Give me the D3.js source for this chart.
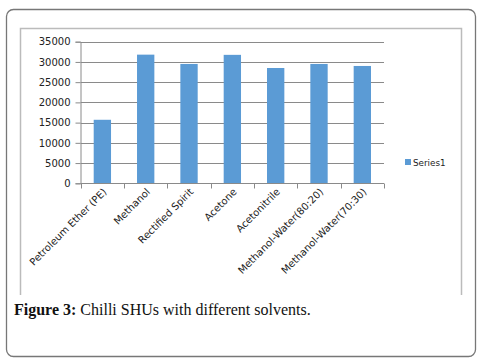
<!DOCTYPE html>
<html><head><meta charset="utf-8">
<script src="https://cdn.jsdelivr.net/npm/d3@7"></script>
<style>body{margin:0;background:#fff}svg{display:block}</style>
</head><body>
<script>
const categories = ["Petroleum Ether (PE)","Methanol","Rectified Spirit","Acetone","Acetonitrile","Methanol-Water(80:20)","Methanol-Water(70:30)"];
const values = [15700,31800,29500,31750,28500,29500,29000];
const yTicks = [0,5000,10000,15000,20000,25000,30000,35000];
const seriesName = "Series1";
const caption = ["Figure 3:", " Chilli SHUs with different solvents."];

const W=486,H=361;
const FONT="'DejaVu Sans', Verdana, sans-serif";
const svg=d3.select("body").append("svg").attr("width",W).attr("height",H);
svg.append("rect").attr("x",6.5).attr("y",9.5).attr("width",469).attr("height",347).attr("rx",7)
  .attr("fill","#fff").attr("stroke","#777").attr("stroke-width",1.3);
svg.append("path").attr("d","M20.5,295 V28.5 H461.5 V295").attr("fill","none").attr("stroke","#bbb").attr("stroke-width",1.5);

const x=d3.scaleBand().domain(categories).range([80.7,384]).paddingInner(0.6).paddingOuter(0.3);
const y=d3.scaleLinear().domain([0,35000]).range([183.3,41.7]);

svg.append("g").selectAll("line").data(yTicks.slice(1)).join("line")
  .attr("x1",80.7).attr("x2",384).attr("y1",d=>Math.round(y(d))+0.5).attr("y2",d=>Math.round(y(d))+0.5)
  .attr("stroke","#8a8a8a").attr("stroke-width",1);

svg.append("g").selectAll("rect").data(values).join("rect")
  .attr("x",(d,i)=>x(categories[i])).attr("width",x.bandwidth())
  .attr("y",d=>y(d)).attr("height",d=>y(0)-y(d)).attr("fill","#5B9BD5");

const ya=d3.axisLeft(y).tickValues(yTicks).tickSize(5).tickPadding(5).tickFormat(d3.format("d"));
const gy=svg.append("g").attr("transform","translate(80.5,0)").call(ya);
gy.select(".domain").attr("stroke","#8a8a8a");
gy.selectAll(".tick line").attr("stroke","#8a8a8a");
gy.selectAll("text").attr("font-family",FONT).attr("font-size","10px").attr("fill","#222");

const step=x.step();
const xa=svg.append("g").attr("transform","translate(0,183.5)");
xa.append("line").attr("x1",80.7).attr("x2",384).attr("stroke","#8a8a8a");
const bounds=d3.range(categories.length+1).map(i=>80.7+i*step);
xa.selectAll("line.t").data(bounds).join("line").attr("class","t")
  .attr("x1",d=>Math.round(d)+0.5).attr("x2",d=>Math.round(d)+0.5).attr("y1",0).attr("y2",5).attr("stroke","#8a8a8a");
xa.selectAll("text").data(categories).join("text")
  .attr("transform",d=>`translate(${x(d)+x.bandwidth()/2+5},9) rotate(-45)`)
  .attr("text-anchor","end").attr("font-family",FONT).attr("font-size","10px").attr("fill","#222")
  .text(d=>d);

svg.append("rect").attr("x",405).attr("y",159).attr("width",6).attr("height",6).attr("fill","#5B9BD5");
svg.append("text").attr("x",413).attr("y",165.5).attr("font-family",FONT).attr("font-size","8.8px").attr("fill","#222").text(seriesName);

const cap=svg.append("text").attr("x",14).attr("y",315).attr("font-family","'Liberation Serif', 'DejaVu Serif', serif").attr("font-size","16px").attr("fill","#111");
cap.append("tspan").attr("font-weight","bold").text(caption[0]);
cap.append("tspan").text(caption[1]);
</script>
</body></html>
